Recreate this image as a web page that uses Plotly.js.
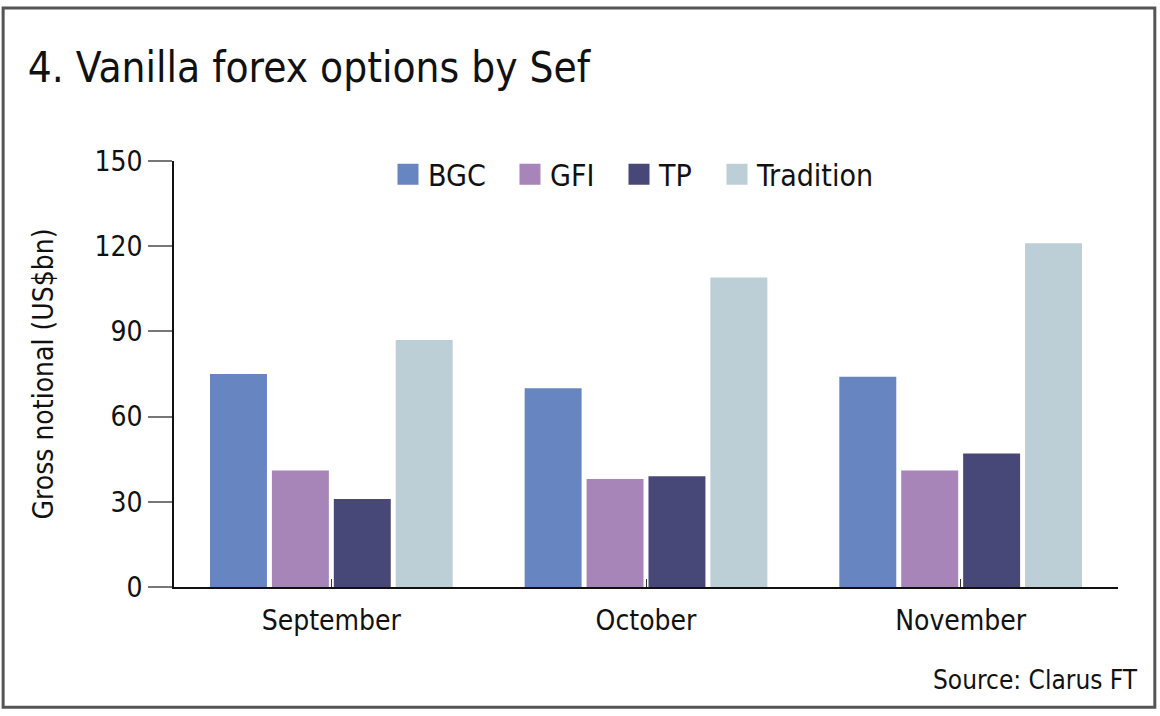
<!DOCTYPE html>
<html>
<head>
<meta charset="utf-8">
<script src="https://cdn.plot.ly/plotly-3.0.1.min.js"></script>
<style>
  body { margin: 0; background: #fff; }
  #plotDiv { width: 1160px; height: 716px; }
</style>
</head>
<body>
<div id="plotDiv"></div>
<script>
// data
let months = ["September", "October", "November"];
let bgc = [75, 70, 74];
let gfi = [41, 38, 41];
let tp = [31, 39, 47];
let tradition = [87, 109, 121];
let yTicks = [0, 30, 60, 90, 120, 150];

let font = "'Liberation Sans Narrow', 'DejaVu Sans Condensed', 'Open Sans', sans-serif";

function makeBar(name, values, color) {
    return {
        x: months,
        y: values,
        name: name,
        type: "bar",
        marker: {color: color},
        showlegend: false,
        hoverinfo: "x+y+name"
    };
}

// legend entries as big squares, each in its own legend so the spacing matches
function legendItem(name, color, legendId) {
    return {
        x: [null],
        y: [null],
        name: name,
        type: "scatter",
        mode: "markers",
        marker: {symbol: "square", size: 16, color: color, line: {color: color, width: 6}},
        showlegend: true,
        legend: legendId
    };
}

let colors = ["#6785c1", "#a885b8", "#484878", "#bccfd6"];
let names = ["BGC", "GFI", "TP", "Tradition"];
let series = [bgc, gfi, tp, tradition];
let legendIds = ["legend", "legend2", "legend3", "legend4"];
let legendX = [0.2267, 0.3559, 0.4714, 0.5752];

var data = [];
for (i = 0; i < series.length; i++) {
    data.push(makeBar(names[i], series[i], colors[i]));
}
for (i = 0; i < series.length; i++) {
    data.push(legendItem(names[i], colors[i], legendIds[i]));
}

var layout = {
    width: 1160,
    height: 716,
    font: {family: font, color: "#111", size: 28},
    paper_bgcolor: "#fff",
    plot_bgcolor: "#fff",
    margin: {l: 174, r: 42, t: 161, b: 129},
    title: {
        text: "4. Vanilla forex options by Sef",
        font: {size: 42, family: font, color: "#111"},
        x: 0.024, xanchor: "left",
        xref: "container",
        y: 0.906, yanchor: "middle", yref: "container"
    },
    barmode: "group",
    bargap: 0.213,
    bargroupgap: 0.08,
    xaxis: {
        type: "category",
        showline: true, linecolor: "#111", linewidth: 1.5,
        ticks: "inside", ticklen: 8, tickcolor: "#333",
        tickfont: {size: 28},
        ticklabelstandoff: 8,
        showgrid: false, zeroline: false,
        fixedrange: true
    },
    yaxis: {
        range: [0, 150],
        tickvals: yTicks,
        showline: true, linecolor: "#111", linewidth: 1.5,
        ticks: "outside", ticklen: 24, tickcolor: "#777", tickwidth: 2,
        tickfont: {size: 28},
        showgrid: false, zeroline: false,
        title: {text: "Gross notional (US$bn)", font: {size: 28}, standoff: 33},
        automargin: false
    },
    shapes: [{
        type: "rect", xref: "paper", yref: "paper",
        x0: -0.181, x1: 1.039, y0: -0.282, y1: 1.359,
        line: {color: "#555", width: 3}
    }],
    annotations: [{
        text: "Source: Clarus FT",
        xref: "paper", yref: "paper",
        x: 1.023, xanchor: "right",
        y: -0.218, yanchor: "middle",
        showarrow: false,
        font: {size: 26, color: "#111"}
    }]
};

for (i = 0; i < legendIds.length; i++) {
    layout[legendIds[i]] = {
        orientation: "h",
        x: legendX[i], xanchor: "left",
        y: 0.969, yanchor: "middle",
        font: {size: 30},
        itemwidth: 30,
        bgcolor: "rgba(0,0,0,0)"
    };
}

Plotly.newPlot("plotDiv", data, layout, {displayModeBar: false});
</script>
</body>
</html>
